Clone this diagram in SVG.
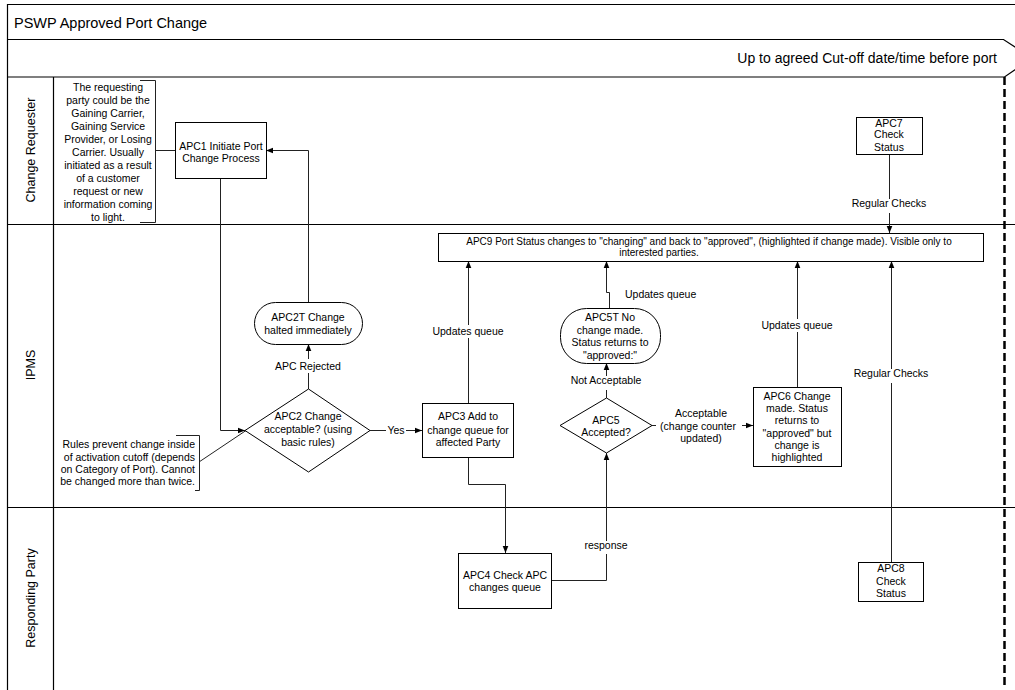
<svg xmlns="http://www.w3.org/2000/svg" width="1015" height="690" viewBox="0 0 1015 690">
<style>
.frame{fill:none;stroke:#000;stroke-width:1.2}
.node{fill:#fff;stroke:#000;stroke-width:1}
.t{font-family:"Liberation Sans",Arial,sans-serif;font-size:10.5px;fill:#000;text-anchor:middle}
.ts{font-family:"Liberation Sans",Arial,sans-serif;font-size:10px;fill:#000;text-anchor:middle}
.lane{font-family:"Liberation Sans",Arial,sans-serif;font-size:12.5px;fill:#000;text-anchor:middle}
.c{fill:none;stroke:#222;stroke-width:1}
.ca{fill:none;stroke:#222;stroke-width:1;marker-end:url(#ah)}
.lbg{fill:#fff;stroke:none}
</style>
<defs>
<marker id="ah" viewBox="0 0 10 10" refX="10" refY="5" markerWidth="7" markerHeight="7" orient="auto" markerUnits="userSpaceOnUse"><path d="M0,1 L10,5 L0,9 z" fill="#000"/></marker>
</defs>
<rect width="1015" height="690" fill="#fff"/>
<g id="frame">
<path class="frame" d="M7.5,690 V4.5 H1015"/>
<path class="frame" d="M7.5,39.5 H1003.5 L1032,58 L1004.5,77 H7.5"/>
<path class="frame" d="M53.5,77 V690"/>
<path class="frame" d="M7.5,224.5 H1015"/>
<path class="frame" d="M7.5,507.5 H1015"/>
<path d="M1004.5,77 V688" fill="none" stroke="#000" stroke-width="2.5" stroke-dasharray="8 4"/>
<text x="14" y="28" font-family="'Liberation Sans',Arial,sans-serif" font-size="14.5px">PSWP Approved Port Change</text>
<text x="997" y="63" text-anchor="end" font-family="'Liberation Sans',Arial,sans-serif" font-size="14px">Up to agreed Cut-off date/time before port</text>
<text class="lane" transform="translate(35,150) rotate(-90)">Change Requester</text>
<text class="lane" transform="translate(35,365) rotate(-90)">IPMS</text>
<text class="lane" transform="translate(35,598) rotate(-90)">Responding Party</text>
</g>
<g id="connectors">
<path class="c" d="M155,150.5 H175"/>
<path class="ca" d="M220.5,178 V430.5 H245"/>
<path class="ca" d="M308.5,389 V344"/>
<path class="ca" d="M308.5,302 V150.5 H266"/>
<path class="ca" d="M370,430.5 H422"/>
<path class="ca" d="M468.5,403 V261"/>
<path class="ca" d="M468.5,457 V484.5 H505.5 V553"/>
<path class="ca" d="M551,580.5 H606.5 V453"/>
<path class="ca" d="M606.5,398 V363"/>
<path class="ca" d="M609.5,308 V292.5 H606.5 V261"/>
<path class="ca" d="M652,425.5 H753"/>
<path class="ca" d="M797.5,387 V261"/>
<path class="ca" d="M889.5,154 V233"/>
<path class="ca" d="M891.5,562 V261"/>
<path class="c" d="M199,462 L246,430.5"/>
<rect class="lbg" x="274" y="359" width="68" height="14"/>
<text class="t" x="308" y="370">APC Rejected</text>
<rect class="lbg" x="386" y="424" width="20" height="13"/>
<text class="t" x="396" y="434">Yes</text>
<rect class="lbg" x="432" y="325" width="72" height="13"/>
<text class="t" x="468" y="335">Updates queue</text>
<rect class="lbg" x="584" y="541" width="46" height="13"/>
<text class="t" x="606" y="549">response</text>
<rect class="lbg" x="567" y="376" width="80" height="14"/>
<text class="t" x="606" y="384">Not Acceptable</text>
<text class="t" x="625" y="298" text-anchor="start" style="text-anchor:start">Updates queue</text>
<rect class="lbg" x="656" y="406" width="86" height="40"/>
<text class="t" x="701" y="417">Acceptable</text>
<text class="t" x="698" y="430">(change counter</text>
<text class="t" x="701" y="442">updated)</text>
<rect class="lbg" x="761" y="319" width="72" height="13"/>
<text class="t" x="797" y="329">Updates queue</text>
<rect class="lbg" x="847" y="199" width="84" height="14"/>
<text class="t" x="889" y="207">Regular Checks</text>
<rect class="lbg" x="849" y="369" width="84" height="14"/>
<text class="t" x="891" y="377">Regular Checks</text>
</g>
<g id="note1">
<path class="c" d="M140,80.5 H155.5 V222.5 H140" stroke="#000"/>
<text class="t" x="108" y="91">The requesting</text>
<text class="t" x="108" y="104">party could be the</text>
<text class="t" x="108" y="117">Gaining Carrier,</text>
<text class="t" x="108" y="130">Gaining Service</text>
<text class="t" x="108" y="143">Provider, or Losing</text>
<text class="t" x="108" y="156">Carrier. Usually</text>
<text class="t" x="108" y="169">initiated as a result</text>
<text class="t" x="108" y="182">of a customer</text>
<text class="t" x="108" y="195">request or new</text>
<text class="t" x="108" y="208">information coming</text>
<text class="t" x="108" y="221">to light.</text>
</g>
<g id="note2">
<path class="c" d="M176,435.5 H199.5 V490.5 H195" stroke="#000"/>
<text class="t" x="195" y="448" style="text-anchor:end">Rules prevent change inside</text>
<text class="t" x="195" y="461" style="text-anchor:end">of activation cutoff (depends</text>
<text class="t" x="195" y="473" style="text-anchor:end">on Category of Port). Cannot</text>
<text class="t" x="195" y="485" style="text-anchor:end">be changed more than twice.</text>
</g>
<g id="APC1">
<rect class="node" x="175.5" y="122.5" width="91" height="56"/>
<text class="t" x="221" y="149.5">APC1 Initiate Port</text>
<text class="t" x="221" y="161.5">Change Process</text>
</g>
<g id="APC2">
<polygon class="node" points="245,430.5 308.5,389 370,430.5 308.5,472"/>
<text class="t" x="308" y="420">APC2 Change</text>
<text class="t" x="308" y="433">acceptable? (using</text>
<text class="t" x="308" y="446">basic rules)</text>
</g>
<g id="APC2T">
<rect class="node" x="254.5" y="302.5" width="108" height="42" rx="21" ry="21"/>
<text class="t" x="308" y="321">APC2T Change</text>
<text class="t" x="308" y="334">halted immediately</text>
</g>
<g id="APC3">
<rect class="node" x="422.5" y="403.5" width="91" height="54"/>
<text class="t" x="468" y="420">APC3 Add to</text>
<text class="t" x="468" y="433.5">change queue for</text>
<text class="t" x="468" y="446">affected Party</text>
</g>
<g id="APC4">
<rect class="node" x="458.5" y="553.5" width="93" height="55"/>
<text class="t" x="505" y="578.5">APC4 Check APC</text>
<text class="t" x="505" y="591">changes queue</text>
</g>
<g id="APC5">
<polygon class="node" points="560,425.5 606.5,398 652,425.5 606.5,453"/>
<text class="t" x="606" y="423.5">APC5</text>
<text class="t" x="606" y="435.5">Accepted?</text>
</g>
<g id="APC5T">
<rect class="node" x="560.5" y="308.5" width="100" height="55" rx="26" ry="26"/>
<text class="t" x="610" y="321">APC5T No</text>
<text class="t" x="610" y="333.5">change made.</text>
<text class="t" x="610" y="346">Status returns to</text>
<text class="t" x="610" y="358.5">"approved:"</text>
</g>
<g id="APC6">
<rect class="node" x="753.5" y="387.5" width="88" height="79"/>
<text class="t" x="797" y="399.5">APC6 Change</text>
<text class="t" x="797" y="411.5">made. Status</text>
<text class="t" x="797" y="423.5">returns to</text>
<text class="t" x="797" y="436.5">"approved" but</text>
<text class="t" x="797" y="448.5">change is</text>
<text class="t" x="797" y="460.5">highlighted</text>
</g>
<g id="APC7">
<rect class="node" x="856.5" y="117.5" width="66" height="37"/>
<text class="t" x="889" y="126.5">APC7</text>
<text class="t" x="889" y="138">Check</text>
<text class="t" x="889" y="150.5">Status</text>
</g>
<g id="APC8">
<rect class="node" x="858.5" y="562.5" width="65" height="39"/>
<text class="t" x="891" y="572">APC8</text>
<text class="t" x="891" y="584.5">Check</text>
<text class="t" x="891" y="597">Status</text>
</g>
<g id="APC9">
<rect class="node" x="438.5" y="233.5" width="545" height="28"/>
<text class="ts" x="709" y="244.5">APC9 Port Status changes to "changing" and back to "approved", (highlighted if change made). Visible only to</text>
<text class="ts" x="659" y="255.5">interested parties.</text>
</g>
</svg>
